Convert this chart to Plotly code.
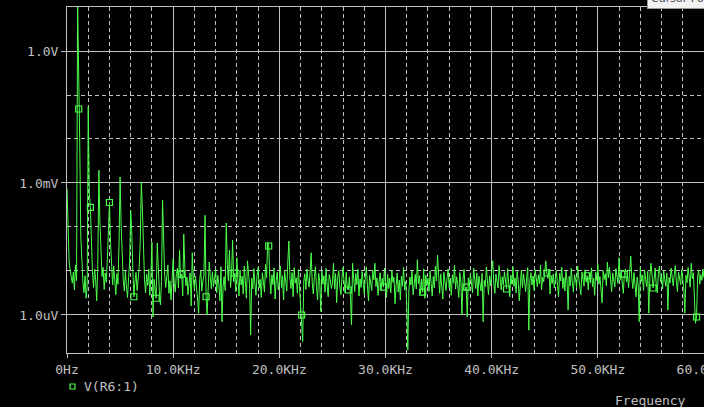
import plotly.graph_objects as go

# ---------------- data ----------------
FREQ_STEP_HZ = 100  # FFT bin spacing
# magnitude of V(R6:1) per 100 Hz bin, in microvolts (one row = 1 kHz)
mag_uV = [
    744, 174, 16, 10.5, 8, 5.3, 9.5, 3.7, 13.7, 6,                 # 0 kHz
    1.2e7, 48000, 8200, 60, 12, 5.5, 3.2, 7.8, 2.4, 4.5,          # 1
    54000, 620, 280, 35, 9.5, 4.2, 11, 6.3, 2.1, 14,              # 2
    1960, 130, 22, 7.5, 12, 3.8, 9, 5.5, 18, 60,                  # 3
    360, 45, 9, 4.8, 13, 6.2, 2.9, 8.8, 5, 40,                    # 4
    1370, 105, 15, 6, 3.5, 10, 4.4, 2.5, 7, 16,                   # 5
    240, 80, 11, 2.6, 5.8, 9.3, 3.6, 6.9, 12, 50,                 # 6
    1050, 255, 18, 6.5, 3.2, 8.4, 4.7, 11, 2.8, 7.2,              # 7
    45, 0.9, 6.5, 4, 2.4, 43, 9, 3.4, 1.7, 5.8,                   # 8
    410, 55, 8, 4.2, 7.6, 13.7, 3.1, 6, 2.2, 9.8,                 # 9
    19, 5.2, 3.3, 8.7, 11.5, 4.1, 30, 6.8, 8.5, 2.7,              # 10
    69, 12, 4.6, 7.3, 2.9, 5.5, 9, 1.6, 26, 6.2,                  # 11
    3.8, 7.7, 4.9, 2.3, 1.1, 6.4, 10.2, 3.5, 5.9, 8.1,            # 12
    185, 2.6, 1.0, 5.3, 16, 7, 3.9, 9.6, 4.4, 6.6,                # 13
    11, 3.2, 8, 5.1, 2.1, 12.5, 0.7, 4.5, 7.4, 3.6,               # 14
    123, 14, 6, 30, 4.2, 8.8, 50, 5.7, 9, 3.4,                    # 15
    20, 6.1, 2.7, 10.4, 4.8, 7.6, 3, 13, 5.4, 2.4,                # 16
    17, 8.3, 4.6, 0.35, 6.9, 3.9, 11.3, 5, 2.8, 7.9,              # 17
    12, 4.1, 6.4, 2.5, 9.1, 5.8, 3.3, 14, 7, 45,                  # 18
    37, 6.8, 3, 8.2, 4.9, 11.8, 2.3, 6, 9.4, 3.7,                 # 19
    5.6, 13, 4.2, 7.8, 2.2, 10, 5, 3.5, 16, 48,                   # 20
    6.7, 4, 9.2, 2.6, 12, 5.3, 7, 3.1, 10.8, 4.6,                 # 21
    1.6, 1.0, 0.25, 5.9, 8.6, 3.8, 11, 6.2, 4.3, 9.5,             # 22
    26, 5.4, 3, 7.5, 12.5, 4.4, 2.2, 8.9, 6, 1.2,                 # 23
    10, 5, 7.8, 3.3, 11.5, 4.8, 2.6, 8.3, 6.4, 4,                 # 24
    5.2, 15, 3.9, 8.7, 1.9, 6.9, 10.2, 4.5, 2.9, 7.1,             # 25
    12, 5.6, 3.2, 9.4, 4.1, 3.7, 7.4, 2.4, 0.6, 15,               # 26
    6.1, 3.4, 8.8, 4.9, 11, 2.7, 6.6, 4.2, 9.7, 5.3,              # 27
    3, 7.6, 12.4, 4.6, 2.1, 8, 5.7, 3.6, 10.5, 6.3,               # 28
    15, 4.4, 7, 2.8, 5.9, 9.1, 3.8, 6.8, 4.3, 11.6,               # 29
    5, 2.5, 8.4, 4, 6.9, 3.2, 10.3, 5.5, 7.2, 1.8,                # 30
    4.7, 9, 3.3, 6.2, 2.2, 7.7, 4.5, 12, 3.7, 5.8,                # 31
    1.9, 0.16, 3.5, 7.3, 4.8, 9.9, 2.9, 6, 8.4, 3.9,              # 32
    18, 5.1, 7.8, 3, 6.5, 3.3, 11.2, 2.4, 8.1, 4.6,               # 33
    6.8, 3.4, 10, 5.2, 2.7, 7.5, 4.1, 12.8, 5.9, 23,              # 34
    6.4, 3.1, 8.6, 4.7, 2.3, 9.3, 5.8, 3.6, 7.1, 11,              # 35
    4.2, 6.9, 2.8, 8.2, 5.3, 13.4, 3.9, 7.4, 4.9, 2.5,            # 36
    9.2, 5.6, 1.0, 6.4, 10.8, 3.6, 4.3, 0.9, 7, 4.5,              # 37
    8.3, 5.1, 3.2, 11.7, 6.2, 4, 9, 2.7, 7.6, 5.4,                # 38
    3.5, 8.9, 0.7, 6.1, 4.4, 12.3, 5.5, 2.9, 7.8, 4.6,            # 39
    10, 17, 5.2, 3.1, 8.5, 6.3, 4.1, 13.2, 6.8, 3.7,              # 40
    7.4, 4.8, 9.6, 5.8, 3.9, 11.4, 6.1, 2.6, 8.1, 5,              # 41
    12.6, 4.5, 7, 3.2, 9.8, 5.9, 2.1, 6.7, 10.5, 4.2,             # 42
    8.7, 5.5, 3.4, 7.2, 11.9, 0.45, 6, 9.1, 4.8, 7.7,             # 43
    3.6, 10.8, 6.3, 4.4, 8.2, 5.1, 13.6, 3.8, 7.3, 5.7,           # 44
    9.5, 17, 9, 6.8, 11.1, 3, 7.9, 5.2, 8.6, 4.1,                 # 45
    6.5, 10.3, 4.7, 2.6, 8.8, 5.9, 12.2, 4, 7.1, 3.5,             # 46
    9.9, 6, 1.3, 7.6, 4.6, 11.5, 5.4, 3.3, 8.3, 6.6,              # 47
    4.2, 13, 7.3, 5.1, 2.9, 9.4, 6.2, 4.5, 10.7, 5.6,             # 48
    7.8, 3.7, 8.9, 5.3, 11.8, 4.4, 6.9, 2.8, 9.3, 6.1,            # 49
    14, 5, 7.5, 4.1, 1.9, 10.1, 6.4, 8.7, 4.6, 16,                # 50
    7, 12.1, 5.3, 3.4, 9, 6.7, 4.3, 11.3, 7.7, 5.2,               # 51
    20, 6.2, 9.7, 4.9, 3.1, 8.5, 11, 5.6, 7.9, 4.2,               # 52
    10.4, 22, 6.8, 4, 9.2, 5.5, 2.6, 7.3, 4.8, 0.7,               # 53
    12.4, 5.8, 8.1, 3.6, 10.6, 6.5, 4.4, 9.8, 1.1, 7.4,           # 54
    15, 8.8, 4.1, 6.3, 11.7, 5, 3.2, 8.6, 12.9, 5.7,              # 55
    7.5, 3.9, 10.2, 6.6, 4.5, 9, 1.3, 7.1, 5.3, 11.6,             # 56
    6.8, 4.6, 8.4, 13.3, 5.6, 3.4, 9.5, 7, 4.9, 10.8,             # 57
    6.2, 3.8, 1.1, 8, 5.4, 12, 7.3, 4.3, 15, 6.7,                 # 58
    9.1, 3.3, 0.65, 0.9, 7.6, 10.4, 5, 8.3, 6.1, 11,              # 59
    7,                                                            # 60
]
# bins carrying the open-square trace markers
marker_bins = [11, 22, 40, 63, 84, 108, 131, 158, 190, 221, 265, 298,
               335, 376, 414, 452, 490, 525, 552, 593]

x_ticks_hz = [0, 10000, 20000, 30000, 40000, 50000, 60000]
x_tick_text = ["0Hz", "10.0KHz", "20.0KHz", "30.0KHz", "40.0KHz", "50.0KHz", "60.0KHz"]
x_minor_hz = [f for f in range(2000, 60001, 2000) if f % 10000]
y_ticks_v = [1.0, 1e-3, 1e-6]
y_tick_text = ["1.0V", "1.0mV", "1.0uV"]
y_minor_v = [1e-1, 1e-2, 1e-4, 1e-5]

trace_name = "V(R6:1)"

# ---------------- figure ----------------
freq = [i * FREQ_STEP_HZ for i in range(len(mag_uV))]
volts = [v * 1e-6 for v in mag_uV]

GREEN = "#4cff4c"
GRID = "#c0c0c0"
FONT = "DejaVu Sans Mono"

W, H = 704, 407
L, R, T, B = 67, 0, 7, 54
pw, ph = W - L - R, H - T - B


def px(xp):
    return (xp - L) / pw


def py(yp):
    return (H - B - yp) / ph


fig = go.Figure()
fig.add_trace(go.Scatter(x=freq, y=volts, mode="lines",
                         line=dict(color=GREEN, width=1), showlegend=False,
                         hoverinfo="skip"))
fig.add_trace(go.Scatter(x=[freq[i] for i in marker_bins],
                         y=[volts[i] for i in marker_bins], mode="markers",
                         marker=dict(symbol="square-open", size=6, color=GREEN,
                                     line=dict(width=1.2, color=GREEN)),
                         showlegend=False, hoverinfo="skip"))

fig.update_layout(
    width=W, height=H,
    margin=dict(l=L, r=R, t=T, b=B, pad=0),
    paper_bgcolor="black", plot_bgcolor="black",
    font=dict(family=FONT, size=13, color=GRID),
    showlegend=False,
    xaxis=dict(range=[0, 60000], tickmode="array", tickvals=x_ticks_hz,
               ticktext=x_tick_text, showgrid=True, gridcolor=GRID, gridwidth=1,
               zeroline=False, showline=True, linecolor=GRID, linewidth=1,
               mirror=True, ticks="outside", ticklen=4, tickcolor=GRID,
               tickfont=dict(family=FONT, size=13, color=GRID),
               ticklabeloverflow="allow",
               minor=dict(tickmode="array", tickvals=x_minor_hz, showgrid=True,
                          gridcolor=GRID, gridwidth=1, griddash="4px,3px",
                          ticks=""),
               automargin=False, fixedrange=True),
    yaxis=dict(type="log", range=[-6.864, 1.0], tickmode="array",
               tickvals=y_ticks_v, ticktext=y_tick_text, showgrid=True,
               gridcolor=GRID, gridwidth=1, zeroline=False, showline=True,
               linecolor=GRID, linewidth=1, mirror=False, ticks="outside",
               ticklen=5, tickcolor=GRID,
               tickfont=dict(family=FONT, size=13, color=GRID),
               minor=dict(tickmode="array", tickvals=y_minor_v, showgrid=True,
                          gridcolor=GRID, gridwidth=1, griddash="4px,3px",
                          ticks=""),
               automargin=False, fixedrange=True),
)

# legend entry (PSpice style: small square + trace name)
fig.add_shape(type="rect", xref="paper", yref="paper",
              x0=px(70), x1=px(75), y0=py(389), y1=py(384),
              line=dict(color=GREEN, width=1.2), fillcolor="black")
fig.add_annotation(xref="paper", yref="paper", x=px(82), y=py(386.5),
                   xanchor="left", yanchor="middle", showarrow=False,
                   text=trace_name, font=dict(family=FONT, size=13, color=GRID))
fig.add_annotation(xref="paper", yref="paper", x=px(688), y=py(400),
                   xanchor="right", yanchor="middle", showarrow=False,
                   text="Frequency", font=dict(family=FONT, size=13, color=GRID))
# cut-off cursor tooltip at the top right
fig.add_annotation(xref="paper", yref="paper", x=px(647), y=py(9),
                   xanchor="left", yanchor="bottom", showarrow=False,
                   text="Cursor Position", bgcolor="#f2f2f2",
                   bordercolor="#9a9a9a", borderwidth=1, borderpad=3,
                   font=dict(family="DejaVu Sans", size=11, color="#4a4a5a"))

fig.write_html("out.html", config={"displayModeBar": False, "staticPlot": True},
               post_script="document.body.style.margin='0';"
                           "document.body.style.overflow='hidden';"
                           "document.body.style.background='black';")
